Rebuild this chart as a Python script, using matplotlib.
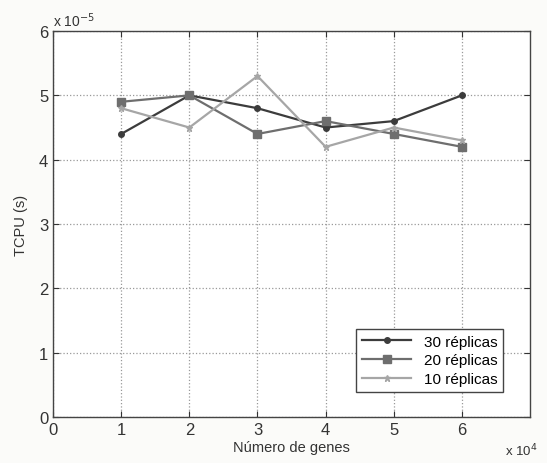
import matplotlib
matplotlib.use("Agg")
import matplotlib.pyplot as plt

plt.rcParams['font.family'] = ['Liberation Sans', 'DejaVu Sans']

genes = [1, 2, 3, 4, 5, 6]  # x 10^4
r30 = [4.4, 5.0, 4.8, 4.5, 4.6, 5.0]  # x 10^-5
r20 = [4.9, 5.0, 4.4, 4.6, 4.4, 4.2]
r10 = [4.8, 4.5, 5.3, 4.2, 4.5, 4.3]
labels = ['30 réplicas', '20 réplicas', '10 réplicas']

fig = plt.figure(figsize=(5.47, 4.64), dpi=100)
fig.patch.set_facecolor('#fbfbf9')
ax = fig.add_axes([0.097, 0.099, 0.872, 0.832])
ax.set_facecolor('white')

ax.plot(genes, r30, color='#3c3c3c', marker='o', markersize=4, lw=1.6, label=labels[0])
ax.plot(genes, r20, color='#6e6e6e', marker='s', markersize=6, lw=1.6, label=labels[1])
ax.plot(genes, r10, color='#a6a6a6', marker='*', markersize=5, lw=1.6, label=labels[2])

ax.set_xlim(0, 7)
ax.set_ylim(0, 6)
ax.set_xticks(range(0, 7))
ax.set_yticks(range(0, 7))
ax.tick_params(direction='in', top=True, right=True, labelsize=12, colors='#333333', length=4)
ax.grid(True, linestyle=':', color='#999999', lw=0.9)
for s in ax.spines.values():
    s.set_color('#444444')
    s.set_linewidth(1.0)

ax.set_xlabel('Número de genes', fontsize=10.5, color='#333333', labelpad=2)
ax.set_ylabel('TCPU (s)', fontsize=10.5, color='#333333', labelpad=8)

ax.text(0.0, 1.005, 'x 10$^{-5}$', transform=ax.transAxes, fontsize=10, color='#333333', ha='left', va='bottom')
ax.text(1.015, -0.085, 'x 10$^{4}$', transform=ax.transAxes, fontsize=9.5, color='#333333', ha='right', va='center')

leg = ax.legend(loc='lower right', bbox_to_anchor=(0.96, 0.045), fontsize=11, fancybox=False,
                framealpha=1, edgecolor='#444444', handlelength=3.2, borderpad=0.4, labelspacing=0.3)
leg.get_frame().set_linewidth(1.0)

fig.savefig('out.png', dpi=100, facecolor=fig.get_facecolor())
